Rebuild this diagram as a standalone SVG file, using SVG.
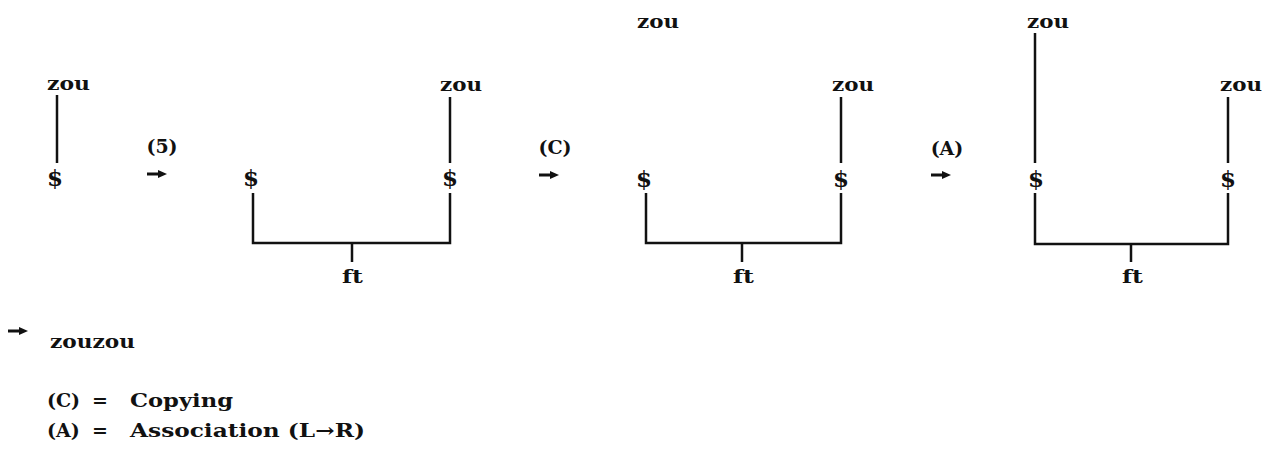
<svg xmlns="http://www.w3.org/2000/svg" width="1274" height="451" viewBox="0 0 1274 451">
<style>
text{font-family:"DejaVu Serif","Liberation Serif",serif;font-weight:bold;font-size:19px;fill:#111}
.m{text-anchor:middle}
.d{font-size:23px}
.ln{stroke:#111;stroke-width:2.5;fill:none}
.ar{stroke:#111;stroke-width:3}
</style>
<defs>
<g id="arrow"><line class="ar" x1="0" y1="0" x2="13" y2="0"/><polygon points="11,-4 20,0 11,4" fill="#111"/></g>
</defs>
<rect width="1274" height="451" fill="#fff"/>
<g id="connectors">
<line class="ln" x1="57" y1="95" x2="57" y2="163"/>
<line class="ln" x1="450" y1="97" x2="450" y2="163"/>
<path class="ln" d="M253,193 V243 H450 V193 M352,243 V262"/>
<line class="ln" x1="841" y1="97" x2="841" y2="163"/>
<path class="ln" d="M646,193 V243 H841 V193 M742,243 V262"/>
<line class="ln" x1="1035" y1="33" x2="1035" y2="163"/>
<line class="ln" x1="1228" y1="97" x2="1228" y2="163"/>
<path class="ln" d="M1035,193 V244 H1228 V193 M1131,244 V262"/>
</g>
<g id="steps">
<g id="step5"><text class="m" x="162" y="153">(5)</text><use href="#arrow" x="147" y="174"/></g>
<g id="stepC"><text class="m" x="555" y="154">(C)</text><use href="#arrow" x="539" y="175"/></g>
<g id="stepA"><text class="m" x="947" y="155">(A)</text><use href="#arrow" x="931" y="175"/></g>
</g>
<g id="d1">
<g id="d1-zou"><text x="47" y="90" textLength="43" lengthAdjust="spacingAndGlyphs">zou</text></g>
<g id="d1-dollar"><text class="m d" x="55" y="186">$</text></g>
</g>
<g id="d2">
<g id="d2-dollar-l"><text class="m d" x="251" y="186">$</text></g>
<g id="d2-zou"><text x="440" y="91" textLength="42" lengthAdjust="spacingAndGlyphs">zou</text></g>
<g id="d2-dollar-r"><text class="m d" x="450" y="186">$</text></g>
<g id="d2-ft"><text x="342" y="283" textLength="21" lengthAdjust="spacingAndGlyphs">ft</text></g>
</g>
<g id="d3">
<g id="d3-zou-top"><text x="637" y="28" textLength="42" lengthAdjust="spacingAndGlyphs">zou</text></g>
<g id="d3-dollar-l"><text class="m d" x="644" y="187">$</text></g>
<g id="d3-zou"><text x="832" y="91" textLength="42" lengthAdjust="spacingAndGlyphs">zou</text></g>
<g id="d3-dollar-r"><text class="m d" x="841" y="187">$</text></g>
<g id="d3-ft"><text x="733" y="283" textLength="21" lengthAdjust="spacingAndGlyphs">ft</text></g>
</g>
<g id="d4">
<g id="d4-zou-top"><text x="1027" y="28" textLength="42" lengthAdjust="spacingAndGlyphs">zou</text></g>
<g id="d4-dollar-l"><text class="m d" x="1036" y="187">$</text></g>
<g id="d4-zou"><text x="1220" y="91" textLength="42" lengthAdjust="spacingAndGlyphs">zou</text></g>
<g id="d4-dollar-r"><text class="m d" x="1228" y="187">$</text></g>
<g id="d4-ft"><text x="1122" y="283" textLength="21" lengthAdjust="spacingAndGlyphs">ft</text></g>
</g>
<g id="result">
<use href="#arrow" x="8" y="331"/>
<text x="50" y="348" textLength="85" lengthAdjust="spacingAndGlyphs">zouzou</text>
</g>
<g id="legend">
<text y="407"><tspan x="47">(C)</tspan><tspan x="92">=</tspan><tspan x="130" textLength="103" lengthAdjust="spacingAndGlyphs">Copying</tspan></text>
<text y="437"><tspan x="47">(A)</tspan><tspan x="92">=</tspan><tspan x="130" textLength="235" lengthAdjust="spacingAndGlyphs">Association (L→R)</tspan></text>
</g>
</svg>
